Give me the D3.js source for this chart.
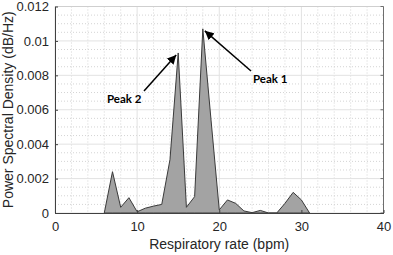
<!DOCTYPE html>
<html>
<head>
<meta charset="utf-8">
<script src="https://cdn.jsdelivr.net/npm/d3@7"></script>
<style>
  body { margin: 0; background: #fff; }
  text { font-family: "Liberation Sans", Arial, sans-serif; }
</style>
</head>
<body>
<div id="chart"></div>
<script>
// respiratory rate (bpm) and power spectral density
const bpm = [0, 1, 2, 3, 4, 5, 6, 7, 8, 9, 10, 11, 12, 13, 14, 15, 16, 17, 18, 19, 20,
    21, 22, 23, 24, 25, 26, 27, 28, 29, 30, 31];
const psd = [0, 0, 0, 0, 0, 0, 0, 0.0024, 0.00033, 0.00089, 0.00007, 0.00028, 0.0004, 0.0005,
    0.0031, 0.0093, 0.00033, 0.00095, 0.0107, 0.0054, 0.00018,
    0.00076, 0.00056, 0.00012, 0.00002, 0.00015, 0, 0, 0.00056, 0.0012, 0.00076, 0];
const xTicks = [0, 10, 20, 30, 40];
const yTicks = [0, 0.002, 0.004, 0.006, 0.008, 0.01, 0.012];
const peaks = [
    { label: 'Peak 2', at: 15, tx: 107, ty: 103, fx: 144, fy: 91 },
    { label: 'Peak 1', at: 18, tx: 253, ty: 83, fx: 251, fy: 71 }
];

const W = 393, H = 255;
const m = { left: 55, right: 9.5, top: 6.5, bottom: 42 };
const w = W - m.left - m.right, h = H - m.top - m.bottom;

const svg = d3.select('#chart').append('svg').attr('width', W).attr('height', H);
const g = svg.append('g').attr('transform', `translate(${m.left}, ${m.top})`);

const x = d3.scaleLinear().domain([0, 40]).range([0, w]);
const y = d3.scaleLinear().domain([0, 0.012]).range([h, 0]);

// minor dotted grid
g.append('g').selectAll('line').data(d3.range(0, 40.01, 2).filter(v => v % 10 !== 0)).enter().append('line')
    .attr('x1', d => x(d)).attr('x2', d => x(d)).attr('y1', 0).attr('y2', h)
    .attr('stroke', '#d4d4d4').attr('stroke-dasharray', '1,2');
g.append('g').selectAll('line').data(d3.range(0, 0.01201, 0.0005).filter((v, i) => i % 4 !== 0)).enter().append('line')
    .attr('y1', d => y(d)).attr('y2', d => y(d)).attr('x1', 0).attr('x2', w)
    .attr('stroke', '#d4d4d4').attr('stroke-dasharray', '1,2');

// major grid
g.append('g').selectAll('line').data(xTicks).enter().append('line')
    .attr('x1', d => x(d)).attr('x2', d => x(d)).attr('y1', 0).attr('y2', h)
    .attr('stroke', '#e2e2e2');
g.append('g').selectAll('line').data(yTicks).enter().append('line')
    .attr('y1', d => y(d)).attr('y2', d => y(d)).attr('x1', 0).attr('x2', w)
    .attr('stroke', '#e2e2e2');

// trim zero runs at the ends so the outline only covers the spectrum
const pts = bpm.map((b, i) => [b, psd[i]]).slice(6);
const area = d3.area().x(d => x(d[0])).y0(y(0)).y1(d => y(d[1]));
g.append('path').datum(pts).attr('d', area)
    .attr('fill', '#a3a3a3').attr('stroke', '#3a3a3a').attr('stroke-width', 1)
    .attr('stroke-linejoin', 'round');

// box: top light, right dark
g.append('line').attr('x1', 0).attr('x2', w).attr('y1', 0).attr('y2', 0).attr('stroke', '#cfcfcf');
g.append('line').attr('x1', w).attr('x2', w).attr('y1', 0).attr('y2', h).attr('stroke', '#6e6e6e');
g.append('g').selectAll('line').data(yTicks).enter().append('line')
    .attr('x1', w - 3).attr('x2', w).attr('y1', d => y(d)).attr('y2', d => y(d)).attr('stroke', '#6e6e6e');

const xAxis = g.append('g').attr('transform', `translate(0, ${h})`)
    .call(d3.axisBottom(x).tickValues(xTicks).tickSizeInner(-3).tickSizeOuter(0).tickPadding(9).tickFormat(d3.format('d')));
const yAxis = g.append('g')
    .call(d3.axisLeft(y).tickValues(yTicks).tickSizeInner(-3).tickSizeOuter(0).tickPadding(6)
        .tickFormat(d => d === 0 ? '0' : String(+d.toFixed(3))));
[xAxis, yAxis].forEach(a => {
    a.select('.domain').attr('stroke', '#404040');
    a.selectAll('.tick line').attr('stroke', '#404040');
    a.selectAll('.tick text').attr('fill', '#262626').style('font-size', '13px')
        .style('font-family', '"Liberation Sans", Arial, sans-serif');
});

svg.append('text').attr('x', m.left + w / 2).attr('y', 249).attr('text-anchor', 'middle')
    .attr('fill', '#262626').style('font-size', '14px').text('Respiratory rate (bpm)');
svg.append('text').attr('transform', `translate(13, ${m.top + h / 2}) rotate(-90)`).attr('text-anchor', 'middle')
    .attr('fill', '#262626').style('font-size', '14px').text('Power Spectral Density (dB/Hz)');

// annotations
svg.append('defs').append('marker').attr('id', 'arr').attr('viewBox', '0 0 10 10')
    .attr('refX', 10).attr('refY', 5).attr('markerWidth', 6).attr('markerHeight', 6)
    .attr('orient', 'auto').append('path').attr('d', 'M0,0L10,5L0,10z').attr('fill', '#000');
peaks.forEach(p => {
    const i = bpm.indexOf(p.at);
    svg.append('line').attr('x1', p.fx).attr('y1', p.fy)
        .attr('x2', m.left + x(p.at) + (p.at === 15 ? -2 : 2)).attr('y2', m.top + y(psd[i]) + 2)
        .attr('stroke', '#000').attr('stroke-width', 1.5).attr('marker-end', 'url(#arr)');
    svg.append('text').attr('x', p.tx).attr('y', p.ty).attr('fill', '#000')
        .style('font-family', 'Lato, "Open Sans", sans-serif').style('font-weight', 'bold').style('font-size', '11.5px')
        .text(p.label);
});
</script>
</body>
</html>
